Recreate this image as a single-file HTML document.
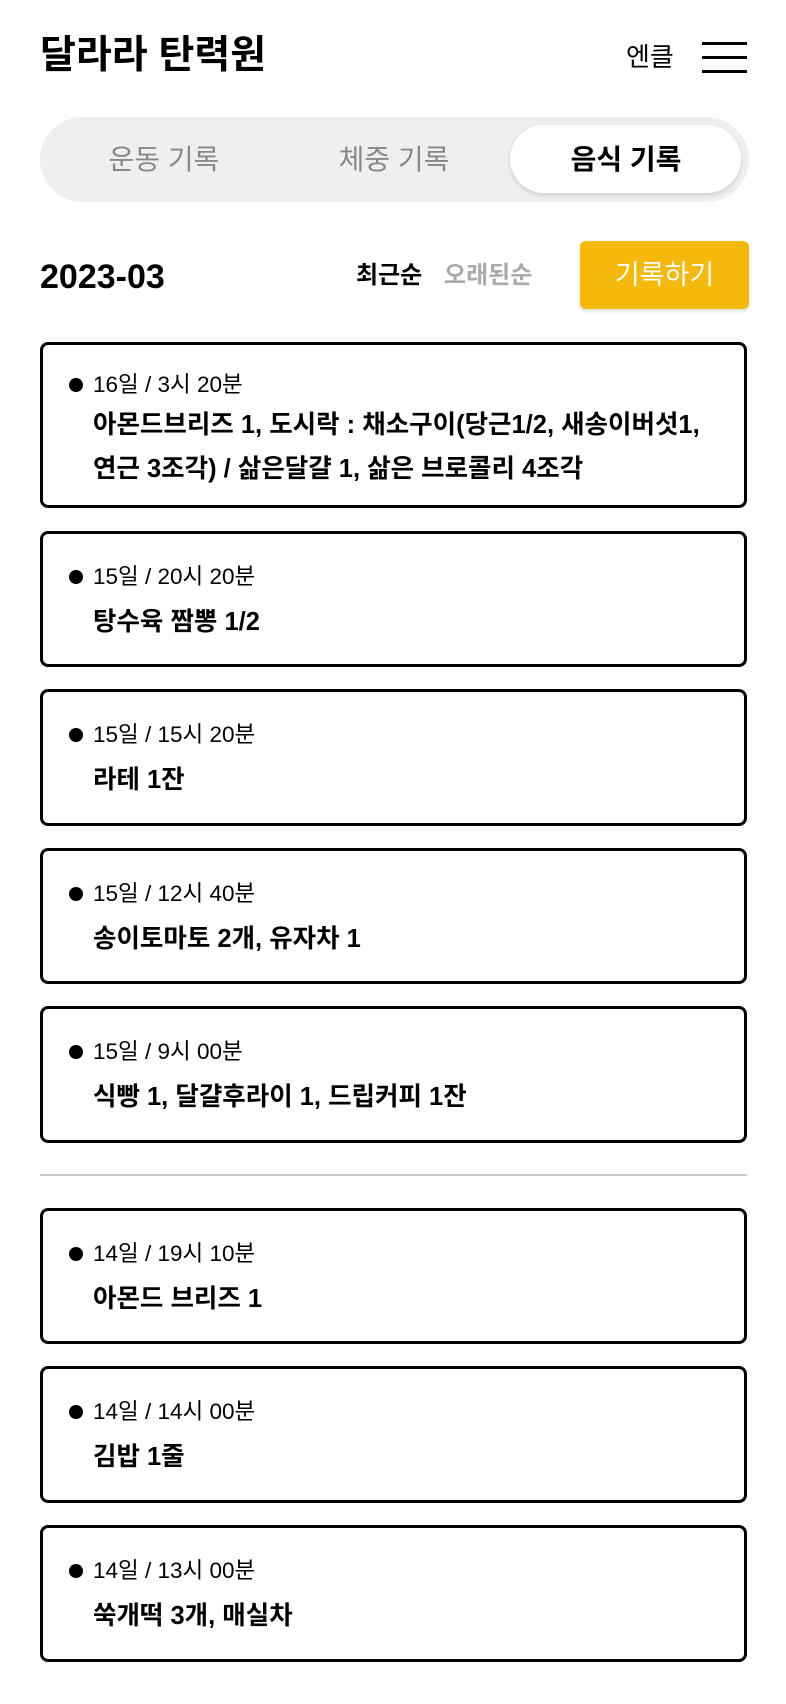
<!DOCTYPE html>
<html><head><meta charset="utf-8"><style>
*{margin:0;padding:0;box-sizing:border-box}
body{width:786px;height:1704px;background:#fff;position:relative;overflow:hidden;font-family:"Liberation Sans","Noto Sans CJK KR",sans-serif;color:#000}
.a{position:absolute;white-space:nowrap}
.card{position:absolute;left:40px;width:707px;border:3px solid #000;border-radius:8px;background:#fff}
.dot{position:absolute;left:26px;width:14px;height:14px;border-radius:50%;background:#000}
.d{position:absolute;left:50px;font-size:22.5px;line-height:26px}
.f{position:absolute;left:50px;font-size:25.5px;font-weight:bold;line-height:44px}
.hl{position:absolute;left:702px;width:45px;height:3px;background:#000}
</style></head><body>
<div class="a" style="left:40px;top:32px;font-size:39px;font-weight:bold;line-height:48px">달라라 탄력원</div>
<div class="a" style="left:626px;top:41px;font-size:26px;line-height:32px">엔클</div>
<div class="hl" style="top:42px"></div><div class="hl" style="top:56px"></div><div class="hl" style="top:70px"></div>

<div class="a" style="left:40px;top:117px;width:709px;height:85px;border-radius:43px;background:#efefef"></div>
<div class="a" style="left:510px;top:125px;width:231px;height:68px;border-radius:34px;background:#fff;box-shadow:0 2px 5px rgba(0,0,0,.15)"></div>
<div class="a" style="left:99px;top:143px;width:130px;text-align:center;font-size:28px;color:#888;line-height:34px">운동 기록</div>
<div class="a" style="left:329px;top:143px;width:130px;text-align:center;font-size:28px;color:#888;line-height:34px">체중 기록</div>
<div class="a" style="left:561px;top:143px;width:130px;text-align:center;font-size:28px;font-weight:bold;line-height:34px">음식 기록</div>

<div class="a" style="left:40px;top:257px;font-size:34px;font-weight:bold;line-height:40px">2023-03</div>
<div class="a" style="left:356px;top:262px;font-size:24px;font-weight:bold;line-height:28px">최근순</div>
<div class="a" style="left:444px;top:262px;font-size:24px;font-weight:bold;color:#aaa;line-height:28px">오래된순</div>
<div class="a" style="left:580px;top:241px;width:169px;height:68px;border-radius:6px;background:#f4b90a;color:#fff;font-size:27px;text-align:center;line-height:68px;box-shadow:0 2px 4px rgba(0,0,0,.15)">기록하기</div>

<div class="card" style="top:342px;height:166px">
<div class="dot" style="top:33px"></div><div class="d" style="top:27px">16일 / 3시 20분</div>
<div class="f" style="top:58px;line-height:44px">아몬드브리즈 1, 도시락 : 채소구이(당근1/2, 새송이버섯1,<br>연근 3조각) / 삶은달걀 1, 삶은 브로콜리 4조각</div>
</div>
<div class="card" style="top:531px;height:136px">
<div class="dot" style="top:36px"></div><div class="d" style="top:30px">15일 / 20시 20분</div><div class="f" style="top:66px">탕수육 짬뽕 1/2</div></div>
<div class="card" style="top:689px;height:137px">
<div class="dot" style="top:36px"></div><div class="d" style="top:30px">15일 / 15시 20분</div><div class="f" style="top:66px">라테 1잔</div></div>
<div class="card" style="top:848px;height:136px">
<div class="dot" style="top:36px"></div><div class="d" style="top:30px">15일 / 12시 40분</div><div class="f" style="top:66px">송이토마토 2개, 유자차 1</div></div>
<div class="card" style="top:1006px;height:137px">
<div class="dot" style="top:36px"></div><div class="d" style="top:30px">15일 / 9시 00분</div><div class="f" style="top:66px">식빵 1, 달걀후라이 1, 드립커피 1잔</div></div>
<div class="a" style="left:40px;top:1174px;width:707px;height:2px;background:#ccc"></div>
<div class="card" style="top:1208px;height:136px">
<div class="dot" style="top:36px"></div><div class="d" style="top:30px">14일 / 19시 10분</div><div class="f" style="top:66px">아몬드 브리즈 1</div></div>
<div class="card" style="top:1366px;height:137px">
<div class="dot" style="top:36px"></div><div class="d" style="top:30px">14일 / 14시 00분</div><div class="f" style="top:66px">김밥 1줄</div></div>
<div class="card" style="top:1525px;height:137px">
<div class="dot" style="top:36px"></div><div class="d" style="top:30px">14일 / 13시 00분</div><div class="f" style="top:66px">쑥개떡 3개, 매실차</div></div>
</body></html>
